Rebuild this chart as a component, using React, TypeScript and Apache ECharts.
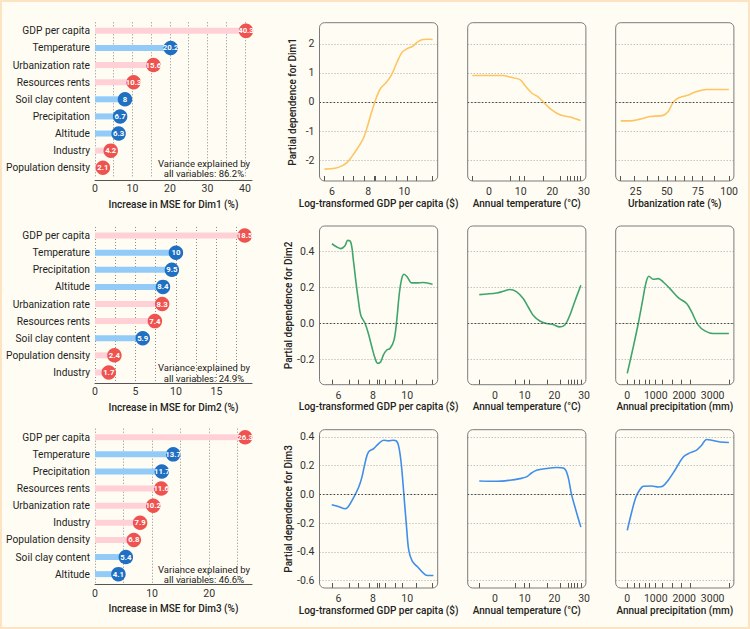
import React, { useEffect, useRef } from 'react';
import * as echarts from 'echarts';

// ---------- Variable importance (lollipop) data ----------
const impCatsDim1 = ['GDP per capita', 'Temperature', 'Urbanization rate', 'Resources rents', 'Soil clay content', 'Precipitation', 'Altitude', 'Industry', 'Population density'];
const impValsDim1 = [40.3, 20.2, 15.6, 10.3, 8, 6.7, 6.3, 4.2, 2.1];
const impCatsDim2 = ['GDP per capita', 'Temperature', 'Precipitation', 'Altitude', 'Urbanization rate', 'Resources rents', 'Soil clay content', 'Population density', 'Industry'];
const impValsDim2 = [18.5, 10, 9.5, 8.4, 8.3, 7.4, 5.9, 2.4, 1.7];
const impCatsDim3 = ['GDP per capita', 'Temperature', 'Precipitation', 'Resources rents', 'Urbanization rate', 'Industry', 'Population density', 'Soil clay content', 'Altitude'];
const impValsDim3 = [26.3, 13.7, 11.7, 11.6, 10.2, 7.9, 6.8, 5.4, 4.1];
const naturalVars = ['Temperature', 'Precipitation', 'Altitude', 'Soil clay content'];
const varianceExplained = [86.2, 24.9, 46.6];
const dimNames = ['Dim1', 'Dim2', 'Dim3'];

// ---------- Partial dependence data ----------
const pdGdpDim1 = [[5.59, -2.31], [6.18, -2.28], [6.55, -2.2], [6.83, -2.09], [7.1, -1.88], [7.47, -1.54], [7.74, -1.25], [7.96, -0.84], [8.2, -0.33], [8.48, 0.19], [8.7, 0.48], [8.99, 0.66], [9.3, 0.94], [9.58, 1.35], [9.86, 1.7], [10.13, 1.83], [10.46, 1.92], [10.72, 2.06], [11.01, 2.15], [11.32, 2.16], [11.56, 2.15]];
const pdTempDim1 = [[-5.27, 0.91], [4.5, 0.91], [6.6, 0.86], [9.8, 0.77], [11.4, 0.56], [13.5, 0.31], [15.6, 0.17], [17.7, -0.06], [19.8, -0.27], [22.4, -0.44], [25.6, -0.52], [28.9, -0.64]];
const pdUrbDim1 = [[13.0, -0.65], [20.4, -0.65], [28.4, -0.59], [36.5, -0.5], [47.1, -0.46], [51.1, -0.33], [55.1, -0.01], [59.1, 0.14], [65.9, 0.22], [73.9, 0.36], [81.9, 0.43], [89.9, 0.43], [99.8, 0.43]];

const pdGdpDim2 = [[5.62, 0.444], [5.91, 0.426], [6.14, 0.417], [6.39, 0.435], [6.54, 0.463], [6.72, 0.453], [6.87, 0.352], [7.03, 0.222], [7.16, 0.129], [7.3, 0.046], [7.55, 0.0], [7.74, -0.056], [7.94, -0.13], [8.13, -0.194], [8.28, -0.222], [8.46, -0.213], [8.61, -0.176], [8.81, -0.148], [9.0, -0.139], [9.23, -0.093], [9.39, 0.018], [9.54, 0.167], [9.68, 0.25], [9.81, 0.274], [10.0, 0.259], [10.26, 0.226], [10.54, 0.226], [10.93, 0.228], [11.47, 0.218]];
const pdTempDim2 = [[-5.27, 0.161], [0.57, 0.17], [2.8, 0.179], [5.0, 0.189], [7.3, 0.176], [9.5, 0.139], [11.2, 0.092], [12.85, 0.046], [15.1, 0.014], [17.35, 0.0], [19.6, -0.006], [21.8, -0.019], [23.5, -0.009], [25.2, 0.046], [26.8, 0.12], [28.9, 0.213]];
const pdPrecDim2 = [[0, -0.278], [211, -0.13], [386, 0.0], [539, 0.129], [657, 0.226], [762, 0.263], [913, 0.246], [1089, 0.25], [1264, 0.231], [1500, 0.194], [1791, 0.144], [2086, 0.111], [2262, 0.064], [2494, -0.009], [2729, -0.041], [3021, -0.056], [3572, -0.056]];

const pdGdpDim3 = [[5.61, -0.072], [6.0, -0.084], [6.39, -0.1], [6.58, -0.084], [6.88, -0.023], [7.17, 0.047], [7.37, 0.121], [7.56, 0.225], [7.75, 0.295], [8.05, 0.318], [8.34, 0.353], [8.63, 0.376], [8.92, 0.371], [9.18, 0.376], [9.37, 0.371], [9.51, 0.33], [9.65, 0.214], [9.8, 0.005], [9.96, -0.228], [10.09, -0.39], [10.29, -0.465], [10.58, -0.502], [10.88, -0.541], [11.17, -0.564], [11.52, -0.564]];
const pdTempDim3 = [[-5.27, 0.093], [0.57, 0.091], [5.0, 0.098], [8.4, 0.109], [10.6, 0.121], [12.3, 0.148], [14.0, 0.167], [17.35, 0.179], [20.7, 0.186], [23.3, 0.179], [24.6, 0.121], [25.7, 0.005], [27.4, -0.123], [28.9, -0.228]];
const pdPrecDim3 = [[0, -0.251], [155, -0.123], [306, -0.019], [446, 0.033], [562, 0.056], [857, 0.058], [1089, 0.051], [1243, 0.056], [1440, 0.098], [1675, 0.167], [1967, 0.26], [2202, 0.288], [2438, 0.307], [2613, 0.341], [2789, 0.381], [2965, 0.376], [3256, 0.364], [3572, 0.36]];

// rug (decile) values
const rugGdpRow1 = [5.59, 6.61, 7.16, 7.76, 8.33, 8.40, 8.94, 9.55, 10.17, 10.68, 11.56];
const rugGdp = [5.62, 6.62, 7.16, 7.78, 8.28, 8.40, 8.75, 9.29, 9.71, 10.54, 11.47];
const rugTempRow1 = [-5.27, 6.85, 9.46, 11.04, 17.13, 22.6, 24.6, 25.8, 26.8, 27.9, 28.9];
const rugTemp = [-5.27, 6.95, 9.83, 11.4, 17.55, 22.05, 24.8, 25.7, 26.7, 27.6, 28.9];
const rugUrb = [13.0, 23.9, 34.6, 43.1, 50.6, 57.0, 63.9, 70.7, 78.4, 87.7, 99.8];
const rugPrec = [0, 235, 421, 646, 773, 973, 1243, 1581, 1911, 2202, 3572];

// tick labels
const gdpTicks = [6, 8, 10];
const tempTicks = [0, 10, 20, 30];
const urbTicks = [25, 50, 75, 100];
const precTicks = [0, 1000, 2000, 3000];

const FONT = 'Roboto';
const RED = '#EF5350';
const PINK = '#FFD0D6';
const BLUE = '#1F6FC2';
const LIGHTBLUE = '#92CBF7';
const ORANGE = '#FDC464';
const GREEN = '#3FA56B';
const BLUEL = '#3F8EEA';

function buildOption() {
  const grids: any[] = [];
  const xAxes: any[] = [];
  const yAxes: any[] = [];
  const series: any[] = [];
  const graphics: any[] = [];

  const nameStyle = { fontFamily: FONT, fontSize: 10, fontWeight: 500, color: '#222' };
  const dots = [1, 2];

  // ----- lollipop panels -----
  const impPanels = [
    { cats: impCatsDim1, vals: impValsDim1, max: 41.9, step: 5, lstep: 10, top: 22.3, offset: 4 },
    { cats: impCatsDim2, vals: impValsDim2, max: 19.4, step: 2.5, lstep: 5, top: 227, offset: 2 },
    { cats: impCatsDim3, vals: impValsDim3, max: 27.5, step: 5, lstep: 10, top: 428.7, offset: 2 },
  ];
  impPanels.forEach((p, i) => {
    const gi = grids.length;
    grids.push({ left: 95, top: p.top, width: 157, height: 154 });
    xAxes.push({
      gridIndex: gi, type: 'value', min: 0, max: p.max, interval: p.step, offset: p.offset,
      axisLine: { show: true, onZero: false, lineStyle: { color: '#555', width: 1 } },
      axisTick: { show: false },
      axisLabel: {
        color: '#333', fontSize: 10.5, fontFamily: FONT, margin: 3, showMaxLabel: false,
        formatter: (v: number) => (Math.abs(v / p.lstep - Math.round(v / p.lstep)) < 1e-6 ? String(v) : ''),
      },
      splitLine: { show: true, showMaxLine: false, lineStyle: { color: '#8a8a8a', type: dots, width: 1 } },
      name: `Increase in MSE for ${dimNames[i]} (%)`, nameLocation: 'middle', nameGap: 19, nameTextStyle: nameStyle,
    });
    yAxes.push({
      gridIndex: gi, type: 'category', data: p.cats, inverse: true,
      axisLine: { show: false }, axisTick: { show: false },
      axisLabel: { color: '#1e1e1e', fontSize: 10.2, fontFamily: FONT, margin: 5 },
      splitLine: { show: false },
    });
    series.push({
      type: 'bar', xAxisIndex: gi, yAxisIndex: gi, barWidth: 6, silent: true,
      data: p.vals.map((v, j) => ({ value: v, itemStyle: { color: naturalVars.includes(p.cats[j]) ? LIGHTBLUE : PINK } })),
    });
    series.push({
      type: 'scatter', xAxisIndex: gi, yAxisIndex: gi, symbolSize: 14.5, silent: true, clip: false,
      data: p.vals.map((v, j) => ({ value: [v, p.cats[j]], itemStyle: { color: naturalVars.includes(p.cats[j]) ? BLUE : RED, opacity: 1 } })),
      label: {
        show: true, position: 'inside', color: '#fff', fontSize: 7.8, fontWeight: 'bold', fontFamily: FONT,
        formatter: (q: any) => String(q.value[0]),
      },
    });
    graphics.push({
      type: 'text', z: 50,
      style: {
        text: `Variance explained by\nall variables: ${varianceExplained[i]}%`,
        x: 204, y: p.top + 135.5, textAlign: 'center', textVerticalAlign: 'top',
        fontSize: 9.5, lineHeight: 10.5, fontFamily: FONT, fill: '#222',
      },
    });
  });

  // ----- partial dependence panels -----
  const colLeft = [319.5, 467.7, 615.7];
  const PW = 118.2;
  const pdRows = [
    {
      top: 22.7, h: 158.3, yMin: -2.72, yMax: 2.73, step: 1, dec: 0, color: ORANGE,
      panels: [
        { data: pdGdpDim1, xMin: 5.317, xMax: 11.84, rug: rugGdpRow1, ticks: gdpTicks, title: 'Log-transformed GDP per capita ($)' },
        { data: pdTempDim1, xMin: -6.72, xMax: 30.6, rug: rugTempRow1, ticks: tempTicks, title: 'Annual temperature (°C)' },
        { data: pdUrbDim1, xMin: 8.97, xMax: 103.8, rug: rugUrb, ticks: urbTicks, title: 'Urbanization rate (%)' },
      ],
    },
    {
      top: 226, h: 158.7, yMin: -0.341, yMax: 0.543, step: 0.2, dec: 1, color: GREEN,
      panels: [
        { data: pdGdpDim2, xMin: 4.9, xMax: 11.77, rug: rugGdp, ticks: gdpTicks, title: 'Log-transformed GDP per capita ($)' },
        { data: pdTempDim2, xMin: -9.16, xMax: 30.6, rug: rugTemp, ticks: tempTicks, title: 'Annual temperature (°C)' },
        { data: pdPrecDim2, xMin: -407, xMax: 3748, rug: rugPrec, ticks: precTicks, title: 'Annual precipitation (mm)' },
      ],
    },
    {
      top: 429.7, h: 158.3, yMin: -0.651, yMax: 0.449, step: 0.2, dec: 1, color: BLUEL,
      panels: [
        { data: pdGdpDim3, xMin: 4.9, xMax: 11.77, rug: rugGdp, ticks: gdpTicks, title: 'Log-transformed GDP per capita ($)' },
        { data: pdTempDim3, xMin: -9.16, xMax: 30.6, rug: rugTemp, ticks: tempTicks, title: 'Annual temperature (°C)' },
        { data: pdPrecDim3, xMin: -407, xMax: 3748, rug: rugPrec, ticks: precTicks, title: 'Annual precipitation (mm)' },
      ],
    },
  ];

  pdRows.forEach((row, r) => {
    row.panels.forEach((p, c) => {
      const gi = grids.length;
      grids.push({ left: colLeft[c], top: row.top, width: PW, height: row.h });
      xAxes.push({
        gridIndex: gi, type: 'value', min: p.xMin, max: p.xMax,
        axisLine: { show: false, onZero: false },
        axisTick: { show: true, inside: true, length: 5, customValues: p.rug, lineStyle: { color: '#555', width: 1 } },
        axisLabel: {
          customValues: p.ticks, color: '#333', fontSize: 10.5, fontFamily: FONT, margin: 5,
          formatter: (v: number) => String(v),
        },
        splitLine: { show: false },
        name: p.title, nameLocation: 'middle', nameGap: 17, nameTextStyle: nameStyle,
      });
      yAxes.push({
        gridIndex: gi, type: 'value', min: row.yMin, max: row.yMax,
        axisLine: { show: false, onZero: false }, axisTick: { show: false },
        axisLabel: {
          show: c === 0, color: '#333', fontSize: 10.5, fontFamily: FONT, margin: 5,
          showMinLabel: false, showMaxLabel: false,
          formatter: (v: number) => (Math.abs(v / row.step - Math.round(v / row.step)) < 1e-6 ? v.toFixed(row.dec) : ''),
        },
        splitLine: { show: true, showMinLine: false, showMaxLine: false, lineStyle: { color: '#a8a8a8', type: dots, width: 1 } },
        name: c === 0 ? `Partial dependence for ${dimNames[r]}` : '',
        nameLocation: 'middle', nameGap: 22, nameTextStyle: nameStyle,
      });
      series.push({
        type: 'line', xAxisIndex: gi, yAxisIndex: gi, data: p.data, smooth: 0.35,
        showSymbol: false, silent: true,
        lineStyle: { color: row.color, width: 1.6 },
        markLine: {
          silent: true, symbol: 'none', label: { show: false },
          lineStyle: { color: '#444', type: [1.5, 2], width: 1 },
          data: [{ yAxis: 0 }],
        },
      });
      graphics.push({
        type: 'rect', z: 100, silent: true,
        shape: { x: colLeft[c], y: row.top, width: PW, height: row.h, r: 5 },
        style: { fill: 'none', stroke: '#7a7a7a', lineWidth: 1 },
      });
    });
  });

  graphics.push({
    type: 'rect', z: 100, silent: true,
    shape: { x: 1, y: 1, width: 748, height: 627 },
    style: { fill: 'none', stroke: '#FCE4C2', lineWidth: 2 },
  });

  return {
    animation: false,
    backgroundColor: '#FFFDF3',
    textStyle: { fontFamily: FONT },
    grid: grids,
    xAxis: xAxes,
    yAxis: yAxes,
    series,
    graphic: graphics,
  };
}

export default function App() {
  const ref = useRef<HTMLDivElement>(null);
  useEffect(() => {
    const chart = echarts.init(ref.current!, null, { renderer: 'svg' });
    chart.setOption(buildOption() as any);
    return () => chart.dispose();
  }, []);
  return <div ref={ref} style={{ position: 'absolute', left: 0, top: 0, width: 750, height: 629 }} />;
}
